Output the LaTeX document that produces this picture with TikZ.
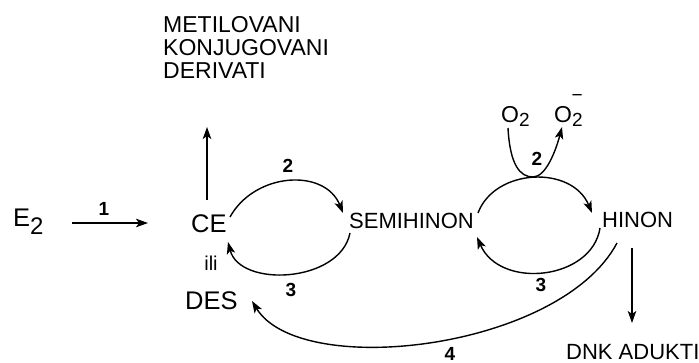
\documentclass[tikz,border=0pt]{standalone}
\usepackage{fontspec}
\setmainfont{Liberation Sans}
\usetikzlibrary{arrows.meta}
\newcommand\sizeto[1]{\fontsize{#1}{#1}\selectfont}
\newcommand\lowtwo[2]{\raisebox{-#2pt}{\sizeto{#1}2}}

\begin{document}
\begin{tikzpicture}[x=1pt,y=-1pt,
  lbl/.style={inner sep=0,anchor=base west},
  big/.style={lbl,font=\sizeto{25.5}},
  mid/.style={lbl,font=\sizeto{22}},
  num/.style={inner sep=0,font=\sizeto{19}\bfseries},
  arr/.style={line width=1.4pt,-{Stealth[length=12pt,width=8.5pt,inset=3pt]}}]
\useasboundingbox (0,0) rectangle (699,363);

% species
\node[big] (E2) at (13,227) {E\lowtwo{24}{8}};
\node[big] (CE) at (191,233) {CE};
\node[inner sep=0,font=\sizeto{20}] (ili) at (211,263) {ili};
\node[big] (DES) at (185,310) {DES};
\node[mid] (SEMI) at (349,229) {SEMIHINON};
\node[mid] (HINON) at (602,228) {HINON};
\node[mid] (DNK) at (566,359.5) {DNK ADUKTI};
\node[inner sep=0,anchor=north west,align=left,font=\fontsize{23}{23}\selectfont]
  (MET) at (163,16) {METILOVANI\\KONJUGOVANI\\DERIVATI};
\node[lbl,font=\sizeto{23}] (O2a) at (501,123) {O\lowtwo{19}{4}};
\node[lbl,font=\sizeto{23}] (O2b) at (554,123)
  {O\lowtwo{19}{4}\llap{\raisebox{21pt}{\sizeto{19}\char"2212}}};

% reaction numbers
\node[num] (n1) at (104,209) {1};
\node[num] (n2a) at (288,166) {2};
\node[num] (n3a) at (291,290) {3};
\node[num] (n2b) at (537,159) {2};
\node[num] (n3b) at (541,285) {3};
\node[num] (n4) at (450,353.5) {4};

% arrow end points
\coordinate (e2out) at (72,223);
\coordinate (cein) at (148,223);
\coordinate (ceup) at (207,200);
\coordinate (metin) at (207,127);
\coordinate (ceright) at (230,217);
\coordinate (semiin) at (343,213);
\coordinate (semilow) at (350,233);
\coordinate (celow) at (228,242);
\coordinate (semiright) at (478,213);
\coordinate (hinonin) at (592,213);
\coordinate (hinonlow) at (600,228);
\coordinate (semiback) at (477,237);
\coordinate (hinonfoot) at (617,243);
\coordinate (desin) at (252,301);
\coordinate (hinondown) at (632,248);
\coordinate (dnkin) at (632,323);
\coordinate (o2out) at (508,128);
\coordinate (o2touch) at (533,177);
\coordinate (o2in) at (562,127);

% connectors
\draw[arr] (e2out) -- (cein);
\draw[arr] (ceup) -- (metin);
\draw[arr] (ceright) .. controls (255,172) and (325,168) .. (semiin);
\draw[arr] (semilow) .. controls (340,283) and (240,288) .. (celow);
\draw[arr] (semiright) .. controls (495,168) and (572,165) .. (hinonin);
\draw[arr] (hinonlow) .. controls (592,280) and (500,290) .. (semiback);
\draw[arr] (hinonfoot) .. controls (560,350) and (300,380) .. (desin);
\draw[arr] (hinondown) -- (dnkin);
\draw[arr] (o2out) .. controls (510,165) and (520,177) .. (o2touch)
  .. controls (546,177) and (556,150) .. (o2in);
\end{tikzpicture}
\end{document}
